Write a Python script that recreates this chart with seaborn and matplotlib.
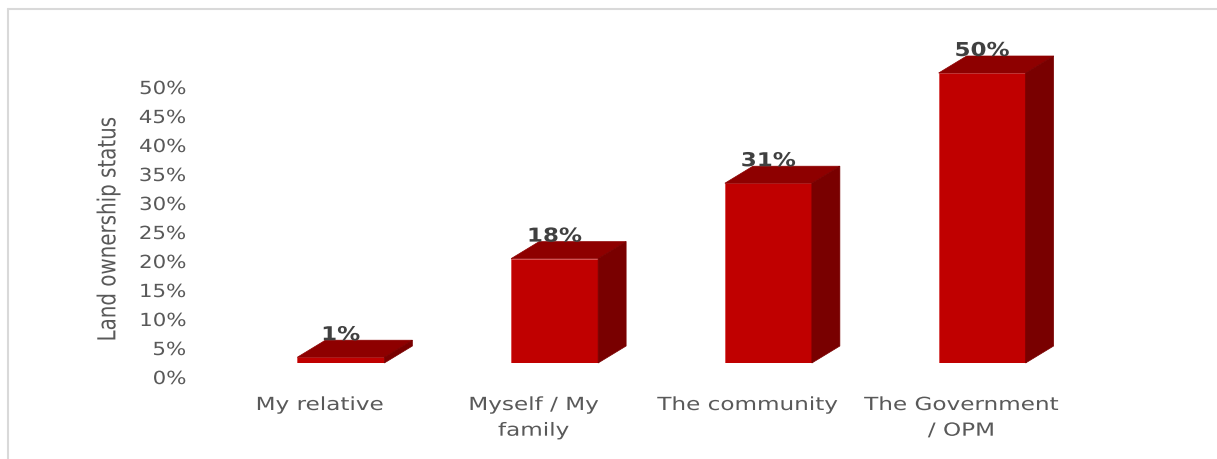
import matplotlib
matplotlib.use("Agg")
import matplotlib.pyplot as plt
from matplotlib.patches import Polygon
from matplotlib.lines import Line2D
from matplotlib.transforms import ScaledTranslation, Affine2D
from matplotlib.patheffects import AbstractPathEffect
import numpy as np
import pandas as pd
import seaborn as sns

# Land ownership status shares
categories = ["My relative", "Myself / My family", "The community", "The Government / OPM"]
shares = [0.01, 0.18, 0.31, 0.50]
value_labels = ["1%", "18%", "31%", "50%"]
tick_labels = ["My relative", "Myself / My\nfamily", "The community", "The Government\n/ OPM"]
y_ticks = [0.00, 0.05, 0.10, 0.15, 0.20, 0.25, 0.30, 0.35, 0.40, 0.45, 0.50]

df = pd.DataFrame({"category": categories, "share": shares})


class Stretch(AbstractPathEffect):
    """Scale glyph outlines along the text direction (sx) and across it (sy)."""

    def __init__(self, sx=1.0, sy=1.0, anchor="center"):
        super().__init__()
        self.sx, self.sy, self.anchor = sx, sy, anchor

    def draw_path(self, renderer, gc, tpath, affine, rgbFace=None):
        ext = tpath.get_extents()
        ax_ = {"center": (ext.x0 + ext.x1) / 2, "right": ext.x1, "left": ext.x0}[self.anchor]
        ay_ = (ext.y0 + ext.y1) / 2
        pre = Affine2D().translate(-ax_, -ay_).scale(self.sx, self.sy).translate(ax_, ay_)
        renderer.draw_path(gc, tpath, pre + affine, rgbFace)


sns.set_theme(style="white")
plt.rcParams["font.family"] = ["DejaVu Sans"]

W, H, DPI = 1217, 460, 100
fig = plt.figure(figsize=(W / DPI, H / DPI), dpi=DPI)
fig.patch.set_facecolor("white")

# axes box in pixels (left, bottom, width, height)
ax_left, ax_bottom, ax_w, ax_h = 234, 96, 855, 290
ax = fig.add_axes([ax_left / W, ax_bottom / H, ax_w / W, ax_h / H])

FRONT = "#C00000"
TOP = "#8E0000"
SIDE = "#790000"
GREY = "#595959"

sns.barplot(data=df, x="category", y="share", color=FRONT, saturation=1,
            width=0.407, ax=ax, edgecolor="#D84848", linewidth=0.6)

ax.set_xlim(-0.5, 3.5)
ax.set_ylim(0, 0.5)
for s in ax.spines.values():
    s.set_visible(False)
ax.set_xlabel("")
ax.set_ylabel("")

# depth of the 3D extrusion, converted from pixels to data units
DX_PX, DY_PX = 28, 17
inv = ax.transData.inverted()
p0 = inv.transform(ax.transData.transform((0, 0)))
p1 = inv.transform(ax.transData.transform((0, 0)) + np.array([DX_PX, DY_PX]))
ddx, ddy = p1 - p0

for patch, lab in zip(ax.patches, value_labels):
    x0 = patch.get_x()
    x1 = x0 + patch.get_width()
    h = patch.get_height()
    top = Polygon([(x0, h), (x1, h), (x1 + ddx, h + ddy), (x0 + ddx, h + ddy)],
                  closed=True, facecolor=TOP, edgecolor=TOP, linewidth=0.5,
                  clip_on=False, zorder=patch.get_zorder())
    side = Polygon([(x1, 0), (x1 + ddx, ddy), (x1 + ddx, h + ddy), (x1, h)],
                   closed=True, facecolor=SIDE, edgecolor=SIDE, linewidth=0.5,
                   clip_on=False, zorder=patch.get_zorder())
    ax.add_patch(top)
    ax.add_patch(side)
    t = ax.text((x0 + x1) / 2, h + ddy, lab, ha="center", va="baseline",
                fontsize=13.8, fontweight="bold", color="#404040", clip_on=False)
    t.set_path_effects([Stretch(1.2)])

# y axis
ax.set_yticks(y_ticks)
ax.set_yticklabels([f"{int(round(v * 100))}%" for v in y_ticks])
ax.tick_params(axis="y", length=0, pad=48 * 72 / DPI, labelsize=13, labelcolor=GREY)
for t in ax.get_yticklabels():
    t.set_transform(t.get_transform() + ScaledTranslation(0, -14 / DPI, fig.dpi_scale_trans))
    t.set_path_effects([Stretch(1.18, anchor="right")])

# x axis
ax.set_xticks(range(len(categories)))
ax.set_xticklabels(tick_labels, linespacing=1.55)
ax.tick_params(axis="x", length=0, pad=33 * 72 / DPI, labelsize=13, labelcolor=GREY)
for t in ax.get_xticklabels():
    t.set_transform(t.get_transform() + ScaledTranslation(-21 / DPI, 0, fig.dpi_scale_trans))
    t.set_path_effects([Stretch(1.28)])

ylab = ax.set_ylabel("Land ownership status", fontsize=14.3, color=GREY)
ylab.set_path_effects([Stretch(1.0, 1.25)])
ax.yaxis.set_label_coords((118 - ax_left) / ax_w, (H - 230 - ax_bottom) / ax_h)

# chart border (top and left edges)
fig.add_artist(Line2D([8 / W, 8 / W], [0, 1 - 10 / H], color="#D9D9D9", linewidth=1.5,
                      transform=fig.transFigure))
fig.add_artist(Line2D([8 / W, 1], [1 - 10 / H, 1 - 10 / H], color="#D9D9D9", linewidth=1.5,
                      transform=fig.transFigure))

fig.savefig("out.png", dpi=DPI, facecolor="white")
